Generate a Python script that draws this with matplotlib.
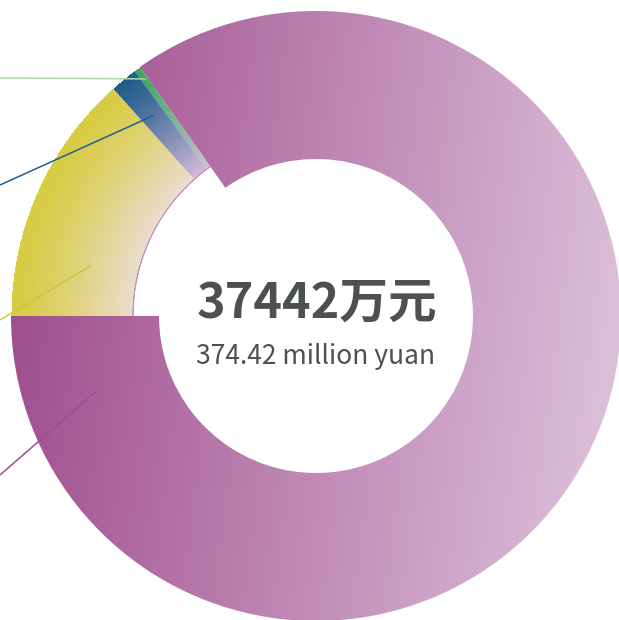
import numpy as np
import matplotlib
matplotlib.use('Agg')
import matplotlib.pyplot as plt
from matplotlib.colors import to_rgb
from matplotlib.patches import Wedge

plt.rcParams['font.family'] = ['Noto Sans CJK SC', 'DejaVu Sans']

# shares of the total (万元), order: start at 9 o'clock, counter-clockwise
names = ['main', 'green', 'blue', 'yellow']
values = [31750, 130, 545, 5017]
total_text = '37442万元'
sub_text = '374.42 million yuan'

# gradient colours per slice (outer / dark end, inner / light end)
dark_cols = ['#9c4689', '#3aa95c', '#225d8b', '#d8cc42']
light_cols = ['#dec4dc', '#cfc3d6', '#d6bcdc', '#ebddd0']
line_cols = ['#a24d90', '#a8d8a4', '#1f5f8e', '#cfc640']

# leader lines: anchor inside slice (angle, radius) and end at left edge (y)
anchor_ang = [199, 125.7, 129, 167.5]
anchor_rad = [233, 292, 258, 231]
edge_y = [145, 542, 435, 300]

W, H = 619, 620
cx, cy = 316, 304
r_out = 305
widths = [148, 122, 122, 122]

fig = plt.figure(figsize=(W / 100, H / 100), dpi=100)
ax = fig.add_axes([0, 0, 1, 1])

wedges, _ = ax.pie(values, startangle=180, counterclock=True, radius=r_out,
                   center=(cx, cy), wedgeprops=dict(width=122, linewidth=0))
ax.set_xlim(0, W)
ax.set_ylim(0, H)
ax.set_aspect('equal')
ax.axis('off')

xx, yy = np.meshgrid(np.linspace(0, W, W), np.linspace(0, H, H))
rr = np.hypot(xx - cx, yy - cy)

for i, w in enumerate(wedges):
    w.set_width(widths[i])
    w.set_facecolor('none')
    c0 = np.array(to_rgb(dark_cols[i]))
    c1 = np.array(to_rgb(light_cols[i]))
    if i == 0:
        # linear gradient, left to right (a bit lighter towards the bottom)
        t = (xx - 10) / (W - 10) * 0.9 + (H - yy) / H * 0.12
    else:
        # radial gradient, outer edge dark, inner edge pale
        r_in = r_out - widths[i]
        t = (r_out - rr) / (r_out - r_in)
        t = t ** 1.3
    t = np.clip(t, 0, 1)[..., None]
    img = c0 * (1 - t) + c1 * t
    im = ax.imshow(img, extent=(0, W, 0, H), origin='lower', zorder=1)
    im.set_clip_path(w)

# thin rim on inner edge of the small slices
for i in range(1, 4):
    w = wedges[i]
    ax.add_patch(Wedge((cx, cy), r_out - widths[i], w.theta1, w.theta2,
                       width=0.01, facecolor='none', edgecolor='#c48fbd',
                       linewidth=0.6, zorder=2))

for i in range(4):
    a = np.deg2rad(anchor_ang[i])
    x1 = cx + anchor_rad[i] * np.cos(a)
    y1 = cy + anchor_rad[i] * np.sin(a)
    ax.plot([0, x1], [edge_y[i], y1], color=line_cols[i], lw=1.1, zorder=3,
            solid_capstyle='butt')

ax.text(cx + 1, cy + 13, total_text, ha='center', va='center', fontsize=35,
        fontweight='bold', color='#4d5052', zorder=4)
ax.text(cx, cy - 41, sub_text, ha='center', va='center', fontsize=19,
        color='#4d5052', zorder=4)

fig.savefig('out.png', dpi=100)
